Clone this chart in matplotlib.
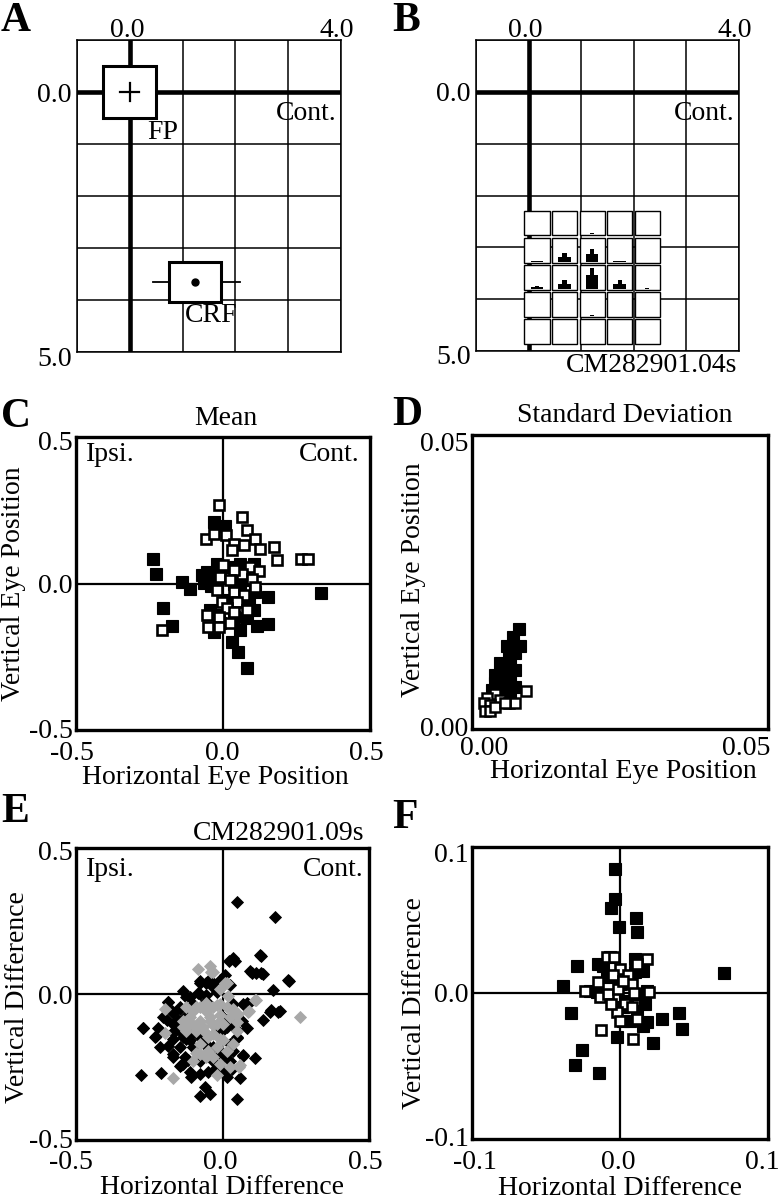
import matplotlib
matplotlib.use("Agg")
from matplotlib import pyplot as plt
from matplotlib.patches import Rectangle
from matplotlib.transforms import ScaledTranslation

plt.rcParams['font.family'] = ['Liberation Serif', 'DejaVu Serif']
plt.rcParams['font.size'] = 20

W, H = 781, 1199

# ---- panel B: response histograms in the 5x5 stimulus grid (fraction of cell height)
hist_peak = [
    [0.00, 0.00, 0.04, 0.00, 0.00],
    [0.04, 0.35, 0.55, 0.04, 0.00],
    [0.10, 0.35, 0.86, 0.35, 0.03],
    [0.00, 0.01, 0.02, 0.00, 0.00],
    [0.00, 0.00, 0.00, 0.00, 0.00],
]
hist_shoulder = [
    [0.00, 0.00, 0.02, 0.00, 0.00],
    [0.02, 0.20, 0.30, 0.02, 0.00],
    [0.06, 0.20, 0.59, 0.20, 0.00],
    [0.00, 0.00, 0.00, 0.00, 0.00],
    [0.00, 0.00, 0.00, 0.00, 0.00],
]

# ---- panel C: mean eye position
c_filled_x = [-0.239, -0.227, -0.139, -0.111, -0.205, -0.172, -0.031, 0.008, -0.066, -0.055,
              -0.020, 0.025, 0.059, 0.105, 0.082, 0.110, 0.152, 0.334, 0.152, 0.116,
              0.082, 0.036, -0.009, -0.032, 0.031, 0.050, 0.080, 0.059, 0.014, 0.059,
              -0.043, -0.015, 0.036, -0.009, 0.088, 0.105, -0.045, 0.070, -0.040, -0.070]
c_filled_y = [0.085, 0.032, 0.005, -0.020, -0.083, -0.145, 0.210, 0.195, 0.002, 0.040,
              0.068, 0.057, 0.068, 0.068, 0.011, -0.028, -0.045, -0.034, -0.139, -0.144,
              -0.119, -0.114, -0.136, -0.165, -0.199, -0.233, -0.290, -0.159, -0.057, -0.023,
              -0.091, -0.108, 0.000, 0.034, -0.057, -0.091, 0.020, 0.030, -0.010, 0.030]
c_open_x = [-0.015, 0.066, -0.058, -0.032, 0.009, 0.082, 0.110, 0.036, 0.070, 0.031,
            0.125, 0.175, 0.184, 0.264, 0.289, 0.093, 0.122, 0.065, 0.000, 0.036,
            0.099, 0.110, -0.009, 0.025, -0.020, 0.036, 0.070, -0.003, 0.048, 0.082,
            0.014, -0.055, -0.013, -0.052, -0.015, -0.206, 0.025, 0.036]
c_open_y = [0.267, 0.226, 0.153, 0.170, 0.165, 0.182, 0.153, 0.136, 0.131, 0.114,
            0.117, 0.123, 0.080, 0.085, 0.085, 0.057, 0.043, 0.034, 0.063, 0.045,
            0.014, -0.011, 0.023, 0.011, -0.023, -0.028, -0.040, -0.063, -0.063, -0.089,
            -0.082, -0.108, -0.114, -0.150, -0.148, -0.159, -0.136, -0.097]

# ---- panel D: standard deviation of eye position
d_filled_x = [0.0079, 0.0070, 0.0081, 0.0069, 0.0059, 0.0073, 0.0062, 0.0048, 0.0065, 0.0073,
              0.0056, 0.0039, 0.0051, 0.0065, 0.0073, 0.0039, 0.0056, 0.0048, 0.0065, 0.0034,
              0.0059, 0.0045]
d_filled_y = [0.0170, 0.0157, 0.0142, 0.0140, 0.0142, 0.0129, 0.0123, 0.0112, 0.0109, 0.0101,
              0.0098, 0.0092, 0.0084, 0.0084, 0.0072, 0.0078, 0.0070, 0.0064, 0.0061, 0.0067,
              0.0053, 0.0053]
d_open_x = [0.0092, 0.0039, 0.0025, 0.0048, 0.0062, 0.0073, 0.0020, 0.0031, 0.0022, 0.0031,
            0.0039, 0.0056]
d_open_y = [0.0064, 0.0060, 0.0053, 0.0050, 0.0044, 0.0044, 0.0044, 0.0041, 0.0030, 0.0030,
            0.0038, 0.0044]

# ---- panel E: single-trial differences (CM282901.09s)
e_black_x = [0.051, 0.178, 0.130, 0.023, 0.042, 0.093, 0.116, 0.139, 0.227, 0.173,
             0.008, 0.025, -0.077, -0.049, -0.032, -0.134, -0.185, -0.202, -0.270, -0.228,
             -0.214, -0.277, -0.210, -0.145, -0.106, -0.077, -0.043, -0.060, 0.051, 0.059,
             0.014, 0.070, 0.110, 0.082, 0.065, 0.139, 0.161, 0.195, 0.070, 0.088,
             0.036, -0.145, -0.174, -0.168, -0.145, -0.128, -0.185, -0.168, -0.136, -0.111,
             -0.077, -0.049, -0.026, -0.003, 0.031, 0.025, 0.036, -0.009, -0.032, -0.055,
             -0.077, -0.100, -0.123, -0.106, -0.168, -0.145, -0.128, -0.077, -0.032, -0.009,
             0.014, 0.036, 0.048, 0.025, 0.002, -0.123, -0.100, -0.077, -0.055, -0.020,
             -0.123, -0.163, 0.036, 0.127, 0.099, 0.133, 0.224, -0.186, -0.271, -0.221,
             -0.231, -0.169, -0.140, 0.082, 0.190, 0.167, 0.048, 0.048, 0.070, 0.025,
             0.002, -0.117, -0.112, -0.083, -0.055, -0.146, -0.169, -0.152, -0.169, -0.134,
             -0.112, -0.083, -0.100, -0.066, -0.043, 0.002, 0.014, -0.020, -0.191, -0.055,
             -0.032, -0.077, -0.009]
e_black_y = [0.316, 0.265, 0.131, 0.114, 0.114, 0.080, 0.071, 0.068, 0.046, 0.014,
             0.065, 0.031, 0.043, 0.043, 0.023, 0.009, -0.029, -0.080, -0.117, -0.145,
             -0.182, -0.279, -0.270, -0.245, -0.285, -0.351, -0.342, -0.319, -0.359, -0.287,
             -0.285, -0.211, -0.220, -0.116, -0.091, -0.089, -0.063, -0.059, -0.034, -0.034,
             -0.034, -0.051, -0.057, -0.103, -0.125, -0.091, -0.177, -0.205, -0.239, -0.268,
             -0.274, -0.268, -0.257, -0.260, -0.257, -0.228, -0.194, -0.205, -0.182, -0.171,
             -0.148, -0.182, -0.154, -0.137, -0.154, -0.182, -0.217, -0.228, -0.228, -0.125,
             -0.114, -0.103, -0.148, -0.171, -0.080, -0.011, -0.034, 0.000, -0.023, 0.006,
             -0.074, -0.125, 0.122, 0.134, 0.071, 0.071, 0.048, -0.026, -0.117, -0.117,
             -0.146, -0.215, -0.243, -0.032, -0.061, -0.055, -0.123, -0.152, -0.209, -0.192,
             -0.215, -0.226, -0.009, 0.002, -0.003, -0.043, -0.066, -0.089, -0.129, -0.146,
             -0.158, -0.134, -0.180, -0.169, -0.192, -0.123, -0.089, -0.112, -0.089, 0.037,
             0.037, 0.037, 0.048]
e_grey_x = [-0.083, -0.043, -0.032, 0.014, -0.009, 0.114, 0.091, 0.264, -0.197, -0.168,
            -0.020, 0.057, -0.123, -0.100, -0.077, -0.055, -0.032, -0.009, -0.134, -0.111,
            -0.077, -0.043, -0.020, 0.002, 0.025, -0.123, -0.089, -0.060, -0.032, -0.009,
            -0.077, -0.049, -0.077, -0.100, -0.032, -0.009, 0.014, 0.036, 0.048, 0.053,
            0.036, 0.019, -0.038, 0.008, 0.110, 0.087, -0.089, -0.055, -0.020, 0.014,
            -0.112, -0.043, -0.009, 0.048, -0.134, -0.100, -0.066, -0.032, 0.002, -0.049,
            -0.020, -0.055, -0.089, -0.197, 0.025, 0.059]
e_grey_y = [0.086, 0.095, 0.074, 0.036, 0.017, -0.021, -0.059, -0.078, -0.051, -0.287,
            -0.279, -0.249, -0.046, -0.057, -0.046, -0.057, -0.046, -0.034, -0.091, -0.103,
            -0.091, -0.091, -0.103, -0.103, -0.080, -0.125, -0.125, -0.131, -0.137, -0.154,
            -0.171, -0.194, -0.205, -0.228, -0.217, -0.239, -0.194, -0.171, -0.125, -0.068,
            -0.051, -0.006, 0.076, 0.037, -0.021, -0.061, -0.043, -0.032, -0.038, -0.043,
            -0.078, -0.078, -0.072, -0.095, -0.112, -0.106, -0.112, -0.106, -0.158, -0.146,
            -0.180, -0.215, -0.203, -0.135, -0.249, -0.243]

# ---- panel F: differences, mean of trials
f_filled_x = [-0.0034, -0.0034, -0.0063, -0.0009, 0.0108, 0.0117, 0.0701, -0.0288, -0.0387, -0.0333,
              -0.0258, -0.0301, -0.0144, -0.0022, 0.0220, 0.0283, 0.0400, 0.0418, 0.0157, 0.0180,
              0.0067, -0.0112, -0.0146, -0.0067, 0.0101, 0.0157, 0.0180, 0.0169, 0.0022, -0.0090,
              -0.0157, -0.0202, 0.0000, 0.0101, 0.0045, 0.0112, 0.0124, 0.0022]
f_filled_y = [0.0847, 0.0642, 0.0585, 0.0453, 0.0513, 0.0415, 0.0134, 0.0187, 0.0050, -0.0139,
              -0.0390, -0.0490, -0.0549, -0.0298, -0.0344, -0.0178, -0.0139, -0.0248, -0.0223, -0.0200,
              -0.0189, 0.0187, 0.0198, 0.0244, 0.0232, 0.0153, 0.0016, -0.0075, -0.0098, 0.0107,
              0.0005, 0.0016, 0.0062, 0.0141, -0.0052, -0.0121, -0.0007, -0.0189]
f_open_x = [-0.0090, -0.0040, 0.0180, 0.0117, 0.0000, 0.0056, -0.0049, -0.0236, -0.0146, -0.0135,
            -0.0079, -0.0016, 0.0079, 0.0097, 0.0198, 0.0034, -0.0022, 0.0079, 0.0000, 0.0117,
            -0.0128, 0.0085, -0.0061, 0.0022]
f_open_y = [0.0244, 0.0244, 0.0232, 0.0198, 0.0164, 0.0125, 0.0125, 0.0016, 0.0073, -0.0030,
            -0.0007, 0.0027, 0.0062, -0.0002, 0.0005, -0.0075, -0.0132, -0.0098, -0.0189, -0.0178,
            -0.0253, -0.0317, -0.0075, 0.0084]


def add_ax(x0, y0, x1, y1):
    return fig.add_axes([x0 / W, 1 - y1 / H, (x1 - x0) / W, (y1 - y0) / H])


def letter(s, x, y):
    fig.text(x / W, 1 - y / H, s, fontsize=30, fontweight='bold', ha='left', va='center')


def nudge(labels, offsets):
    # shift tick labels by a few pixels (dx right, dy down)
    for lab, (dx, dy) in zip(labels, offsets):
        lab.set_transform(lab.get_transform() +
                          ScaledTranslation(dx / 100, -dy / 100, fig.dpi_scale_trans))


def grid_panel(ax):
    ax.set_xlim(-1, 4)
    ax.set_ylim(5, -1)
    for v in range(-1, 5):
        ax.axvline(v, color='k', lw=1.1, zorder=1)
    for v in range(-1, 6):
        ax.axhline(v, color='k', lw=1.1, zorder=1)
    ax.axvline(0, color='k', lw=3.3, zorder=1.5)
    ax.axhline(0, color='k', lw=3.3, zorder=1.5)
    ax.set_xticks([0, 4])
    ax.set_xticklabels(['0.0', '4.0'])
    ax.set_yticks([0, 5])
    ax.set_yticklabels(['0.0', '5.0'])
    ax.tick_params(top=True, labeltop=True, bottom=False, labelbottom=False,
                   length=0, pad=0)
    ax.tick_params(axis='y', pad=4)
    for tick, (dx, dy) in zip(ax.xaxis.get_major_ticks(), [(-3, 3), (-4, 3)]):
        nudge([tick.label2], [(dx, dy)])
    nudge(ax.get_yticklabels(), [(0, 0), (0, 4)])
    for sp in ax.spines.values():
        sp.set_linewidth(1.1)
    ax.text(3.92, 0.42, 'Cont.', ha='right', va='center')


def scatter_panel(ax, lim, ticks, labels, xpad, zero_lines=True):
    ax.set_xlim(-lim if zero_lines else 0, lim)
    ax.set_ylim(-lim if zero_lines else 0, lim)
    ax.set_xticks(ticks)
    ax.set_xticklabels(labels)
    ax.set_yticks(ticks)
    ax.set_yticklabels(labels)
    ax.tick_params(length=0)
    ax.tick_params(axis='x', pad=xpad)
    ax.tick_params(axis='y', pad=2.5)
    for sp in ax.spines.values():
        sp.set_linewidth(2.4)
    if zero_lines:
        ax.axhline(0, color='k', lw=1.6, zorder=1)
        ax.axvline(0, color='k', lw=1.6, zorder=1)


fig = plt.figure(figsize=(7.81, 11.99), dpi=100)

# ---------------- A
axA = add_ax(77, 40, 341, 352)
grid_panel(axA)
axA.add_patch(Rectangle((-0.5, -0.5), 1.0, 1.0, fc='white', ec='k', lw=2.2, zorder=3))
axA.plot([-0.18, 0.18], [0, 0], color='k', lw=1.6, zorder=4)
axA.plot([0, 0], [-0.18, 0.18], color='k', lw=1.6, zorder=4)
axA.text(0.63, 0.77, 'FP', ha='center', va='center')
axA.plot([0.44, 0.74], [3.65, 3.65], color='k', lw=1.3, zorder=3)
axA.plot([1.73, 2.09], [3.65, 3.65], color='k', lw=1.3, zorder=3)
axA.add_patch(Rectangle((0.74, 3.27), 0.99, 0.77, fc='white', ec='k', lw=2.2, zorder=3))
axA.plot([1.23], [3.65], 'o', color='k', ms=5, zorder=4)
axA.text(1.55, 4.29, 'CRF', ha='center', va='center')
letter('A', 1, 21)

# ---------------- B
axB = add_ax(476, 40, 739, 351)
grid_panel(axB)
cell0_x, cell0_y, pitch, size = -0.08, 2.29, 0.524, 0.48
bw = 0.08
for i in range(5):
    for j in range(5):
        cx = cell0_x + j * pitch
        cy = cell0_y + i * pitch
        axB.add_patch(Rectangle((cx, cy), size, size, fc='white', ec='k',
                                lw=1.0, zorder=3))
        mid = cx + size / 2
        hts = [hist_shoulder[i][j], hist_peak[i][j], hist_shoulder[i][j]]
        hts = [h * size * 0.95 for h in hts]
        if max(hts) > 0:
            axB.bar([mid - bw, mid, mid + bw], [-h for h in hts], bottom=cy + size - 0.02,
                    width=bw, color='k', zorder=4, linewidth=0)
axB.text(0.992, -0.008, 'CM282901.04s', transform=axB.transAxes, ha='right', va='top')
letter('B', 392, 21)

# ---------------- C
axC = add_ax(76, 437, 370, 730)
scatter_panel(axC, 0.5, [-0.5, 0, 0.5], ['-0.5', '0.0', '0.5'], xpad=8)
nudge(axC.get_xticklabels(), [(-4, 0), (-1, 0), (-4, 0)])
nudge(axC.get_yticklabels(), [(0, -2), (0, 0), (0, 3)])
axC.plot(c_filled_x, c_filled_y, 's', color='k', ms=8.6, mew=0.8, zorder=3)
axC.plot(c_open_x, c_open_y, 's', mfc='white', mec='k', ms=7.4, mew=1.9, zorder=4)
axC.text(0.034, 0.94, 'Ipsi.', transform=axC.transAxes, ha='left', va='center')
axC.text(0.966, 0.94, 'Cont.', transform=axC.transAxes, ha='right', va='center')
axC.text(0.51, 1.062, 'Mean', transform=axC.transAxes, ha='center', va='center')
axC.set_xlabel('Horizontal Eye Position', va='center')
axC.xaxis.set_label_coords(0.473, -0.161)
axC.set_ylabel('Vertical Eye Position', va='center')
axC.yaxis.set_label_coords(-0.211, 0.5)
letter('C', 1, 417)

# ---------------- D
axD = add_ax(472, 435, 768, 729)
scatter_panel(axD, 0.05, [0, 0.05], ['0.00', '0.05'], xpad=5, zero_lines=False)
nudge(axD.get_xticklabels(), [(12, 0), (-22, 0)])
nudge(axD.get_yticklabels(), [(0, -2), (0, 7)])
axD.plot(d_filled_x, d_filled_y, 's', color='k', ms=8.4, mew=0.8, zorder=3)
axD.plot(d_open_x, d_open_y, 's', mfc='white', mec='k', ms=7.2, mew=1.8, zorder=4)
axD.text(0.517, 1.068, 'Standard Deviation', transform=axD.transAxes, ha='center', va='center')
axD.set_xlabel('Horizontal Eye Position', va='center')
axD.xaxis.set_label_coords(0.51, -0.146)
axD.set_ylabel('Vertical Eye Position', va='center')
axD.yaxis.set_label_coords(-0.199, 0.507)
letter('D', 392, 415)

# ---------------- E
axE = add_ax(76, 848, 369, 1140)
scatter_panel(axE, 0.5, [-0.5, 0, 0.5], ['-0.5', '0.0', '0.5'], xpad=7)
nudge(axE.get_xticklabels(), [(-5, 0), (-2, 0), (-4, 0)])
nudge(axE.get_yticklabels(), [(0, -2), (0, 0), (0, 3)])
axE.plot(e_black_x, e_black_y, 'D', color='k', ms=6.2, mew=0.6, zorder=3)
axE.plot(e_grey_x, e_grey_y, 'D', color='#a8a8a8', ms=6.2, mew=0.6, zorder=4)
axE.text(0.034, 0.925, 'Ipsi.', transform=axE.transAxes, ha='left', va='center')
axE.text(0.983, 0.925, 'Cont.', transform=axE.transAxes, ha='right', va='center')
axE.text(0.983, 1.051, 'CM282901.09s', transform=axE.transAxes, ha='right', va='center')
axE.set_xlabel('Horizontal Difference', va='center')
axE.xaxis.set_label_coords(0.498, -0.162)
axE.set_ylabel('Vertical Difference', va='center')
axE.yaxis.set_label_coords(-0.201, 0.49)
letter('E', 1, 812)

# ---------------- F
axF = add_ax(472, 847, 768, 1139)
scatter_panel(axF, 0.1, [-0.1, 0, 0.1], ['-0.1', '0.0', '0.1'], xpad=8)
nudge(axF.get_xticklabels(), [(3, 0), (-2, 0), (-6, 0)])
nudge(axF.get_yticklabels(), [(0, -2), (0, 0), (0, 6)])
axF.plot(f_filled_x, f_filled_y, 's', color='k', ms=8.6, mew=0.8, zorder=3)
axF.plot(f_open_x, f_open_y, 's', mfc='white', mec='k', ms=7.4, mew=1.9, zorder=4)
axF.set_xlabel('Horizontal Difference', va='center')
axF.xaxis.set_label_coords(0.5, -0.168)
axF.set_ylabel('Vertical Difference', va='center')
axF.yaxis.set_label_coords(-0.193, 0.466)
letter('F', 392, 818)

fig.savefig('out.png', dpi=100)
